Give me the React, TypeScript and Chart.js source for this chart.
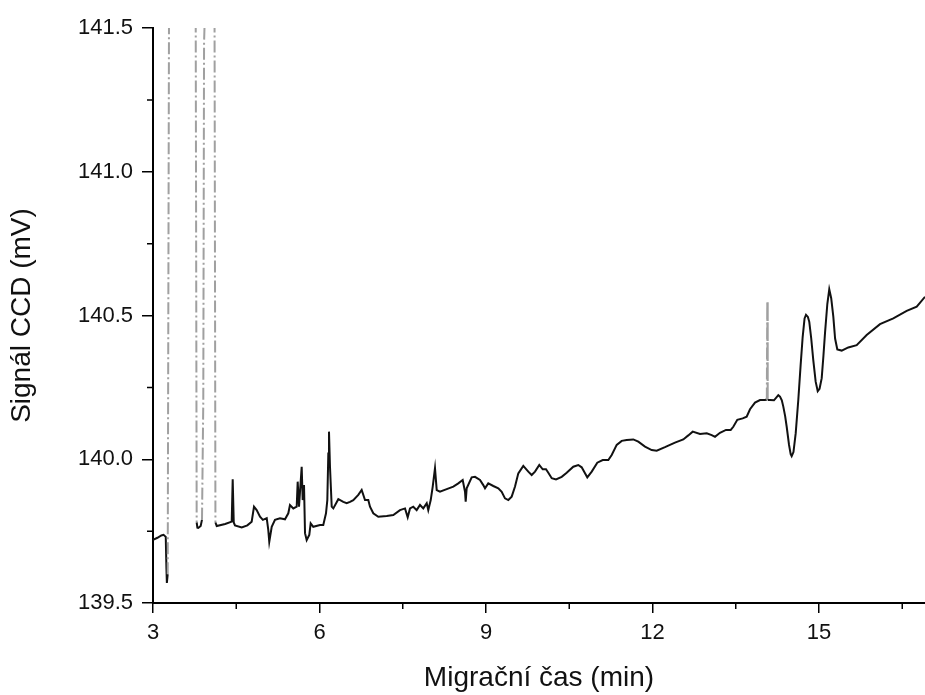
import React, { useEffect, useRef } from "react";
import { Chart, registerables } from "chart.js";

Chart.register(...registerables);

// Migration time (min)
const TIME = [
  3.0, 3.08, 3.15, 3.19, 3.23, 3.242, 3.25, 3.265, 3.3, 3.76, 3.787, 3.8, 3.816, 3.859, 3.883, 3.906, 3.92,
  4.08, 4.1, 4.125, 4.148, 4.3, 4.418, 4.436, 4.455, 4.477, 4.598, 4.7, 4.778, 4.82, 4.868, 4.928, 4.98,
  5.049, 5.077, 5.095, 5.139, 5.198, 5.288, 5.378, 5.438, 5.468, 5.528, 5.589, 5.607, 5.631, 5.679, 5.697,
  5.721, 5.739, 5.769, 5.816, 5.841, 5.888, 6.009, 6.068, 6.117, 6.141, 6.159, 6.171, 6.189, 6.22, 6.249,
  6.339, 6.429, 6.49, 6.55, 6.609, 6.699, 6.76, 6.82, 6.879, 6.91, 6.969, 7.059, 7.211, 7.33, 7.45, 7.541,
  7.589, 7.631, 7.69, 7.751, 7.811, 7.87, 7.932, 7.96, 8.004, 8.04, 8.081, 8.112, 8.171, 8.292, 8.411,
  8.501, 8.58, 8.622, 8.634, 8.652, 8.742, 8.802, 8.892, 8.951, 8.982, 9.041, 9.132, 9.222, 9.283, 9.342,
  9.402, 9.463, 9.523, 9.582, 9.672, 9.762, 9.823, 9.883, 9.96, 10.022, 10.081, 10.123, 10.184, 10.261,
  10.364, 10.454, 10.573, 10.663, 10.724, 10.784, 10.825, 10.905, 11.005, 11.103, 11.204, 11.265, 11.355,
  11.445, 11.535, 11.654, 11.744, 11.865, 11.986, 12.076, 12.225, 12.405, 12.555, 12.645, 12.724, 12.856,
  12.977, 13.067, 13.126, 13.216, 13.324, 13.409, 13.456, 13.528, 13.625, 13.697, 13.757, 13.847, 13.937,
  14.027, 14.06, 14.068, 14.076, 14.117, 14.189, 14.267, 14.297, 14.33, 14.357, 14.39, 14.418, 14.46,
  14.49, 14.508, 14.54, 14.58, 14.627, 14.67, 14.706, 14.74, 14.766, 14.8, 14.825, 14.86, 14.897, 14.94,
  14.977, 15.01, 15.049, 15.08, 15.108, 15.15, 15.185, 15.22, 15.258, 15.29, 15.33, 15.409, 15.528,
  15.679, 15.859, 16.099, 16.339, 16.58, 16.761, 16.91,
];

// CCD signal (mV)
const SIGNAL = [
  139.72, 139.727, 139.735, 139.737, 139.73, 139.62, 139.57, 139.6, 142.5, 142.5, 139.78, 139.762, 139.761,
  139.768, 139.79, 140.2, 141.45,
  142.5, 142.5, 139.78, 139.768, 139.775, 139.783, 139.93, 139.78, 139.77, 139.763, 139.77, 139.783, 139.835,
  139.823, 139.8, 139.789,
  139.795, 139.754, 139.713, 139.765, 139.789, 139.795, 139.791, 139.812, 139.841, 139.829, 139.835, 139.922,
  139.835, 139.974, 139.858,
  139.91, 139.743, 139.719, 139.737, 139.777, 139.765, 139.771, 139.771, 139.812, 139.858, 140.02, 140.096,
  139.974, 139.835, 139.829,
  139.861, 139.852, 139.847, 139.852, 139.858, 139.876, 139.893, 139.858, 139.858, 139.835, 139.812, 139.8,
  139.803, 139.806, 139.823, 139.829,
  139.798, 139.829, 139.835, 139.823, 139.841, 139.829, 139.847, 139.823, 139.858, 139.905, 139.969, 139.893,
  139.887, 139.896, 139.905,
  139.916, 139.928, 139.887, 139.852, 139.899, 139.937, 139.939, 139.928, 139.91, 139.899, 139.916, 139.907,
  139.899, 139.887, 139.864,
  139.858, 139.87, 139.905, 139.951, 139.977, 139.957, 139.945, 139.957, 139.98, 139.965, 139.965, 139.953,
  139.934, 139.93,
  139.939, 139.953, 139.974, 139.98, 139.972, 139.951, 139.937, 139.957, 139.988, 139.997, 139.997, 140.015,
  140.05,
  140.064, 140.067, 140.069, 140.061, 140.044, 140.032, 140.03, 140.042, 140.058, 140.069, 140.083, 140.096,
  140.088,
  140.09, 140.084, 140.078, 140.092, 140.102, 140.102, 140.113, 140.137, 140.142, 140.148, 140.174, 140.197,
  140.206,
  140.206, 140.208, 140.548, 140.206, 140.206, 140.205, 140.223, 140.218, 140.205, 140.183, 140.15, 140.113,
  140.05,
  140.018, 140.011, 140.025, 140.09, 140.206, 140.33, 140.426, 140.49, 140.502, 140.495, 140.478, 140.42,
  140.345, 140.27,
  140.237, 140.245, 140.282, 140.36, 140.438, 140.54, 140.591, 140.56, 140.496, 140.42, 140.382, 140.378,
  140.389,
  140.397, 140.432, 140.47, 140.49, 140.516, 140.531, 140.565,
];

const X_TICKS = [3, 6, 9, 12, 15];
const X_MINOR = [4.5, 7.5, 10.5, 13.5, 16.5];
const Y_TICKS = [139.5, 140.0, 140.5, 141.0, 141.5];
const Y_MINOR = [139.75, 140.25, 140.75, 141.25];

const X_TITLE = "Migrační čas (min)";
const Y_TITLE = "Signál CCD (mV)";

const FONT = "'Liberation Sans', Arial, Helvetica, sans-serif";

const minorTicks = {
  id: "minorTicks",
  afterDraw(chart: any) {
    const { ctx, chartArea } = chart;
    const xs = chart.scales.x;
    const ys = chart.scales.y;
    ctx.save();
    ctx.strokeStyle = "#000";
    ctx.lineWidth = 1.5;
    ctx.beginPath();
    X_MINOR.forEach((v) => {
      const px = xs.getPixelForValue(v);
      if (px <= chartArea.right + 0.5) {
        ctx.moveTo(px, chartArea.bottom);
        ctx.lineTo(px, chartArea.bottom + 6);
      }
    });
    Y_MINOR.forEach((v) => {
      const py = ys.getPixelForValue(v);
      ctx.moveTo(chartArea.left - 6, py);
      ctx.lineTo(chartArea.left, py);
    });
    ctx.stroke();
    ctx.restore();
  },
};

export default function App() {
  const ref = useRef<HTMLCanvasElement | null>(null);

  useEffect(() => {
    if (!ref.current) return;
    const points = TIME.map((t, i) => ({ x: t, y: SIGNAL[i] }));
    const steep = (c: any) => Math.abs(c.p1.parsed.y - c.p0.parsed.y) > 0.3;
    const chart = new Chart(ref.current, {
      type: "line",
      data: {
        datasets: [
          {
            data: points,
            borderColor: "#111",
            borderWidth: 2,
            pointRadius: 0,
            tension: 0,
            fill: false,
            segment: {
              borderColor: (c: any) => (steep(c) ? "#a0a0a0" : "#111"),
              borderDash: (c: any) => (steep(c) ? [12, 3, 2, 3] : undefined),
            },
          },
        ],
      },
      options: {
        animation: false,
        responsive: false,
        layout: { padding: { top: 28, right: 0, left: 0, bottom: 0 } },
        plugins: { legend: { display: false }, tooltip: { enabled: false } },
        scales: {
          x: {
            type: "linear",
            min: 3,
            max: 16.91,
            afterBuildTicks: (s: any) => {
              s.ticks = X_TICKS.map((v) => ({ value: v }));
            },
            afterFit: (s: any) => {
              s.height = 92;
            },
            ticks: {
              color: "#111",
              font: { family: FONT, size: 22 },
              padding: 7,
              maxRotation: 0,
              autoSkip: false,
              callback: (v: any) => String(v),
            },
            grid: {
              display: true,
              drawOnChartArea: false,
              drawTicks: true,
              tickLength: 10,
              color: "#000",
              lineWidth: 1.5,
            },
            border: { display: true, color: "#000", width: 2 },
            title: {
              display: true,
              text: X_TITLE,
              color: "#111",
              font: { family: FONT, size: 28 },
              padding: { top: 0, bottom: 0 },
            },
          },
          y: {
            type: "linear",
            min: 139.5,
            max: 141.5,
            afterBuildTicks: (s: any) => {
              s.ticks = Y_TICKS.map((v) => ({ value: v }));
            },
            afterFit: (s: any) => {
              s.width = 153;
            },
            ticks: {
              color: "#111",
              font: { family: FONT, size: 22 },
              padding: 9,
              autoSkip: false,
              callback: (v: any) => Number(v).toFixed(1),
            },
            grid: {
              display: true,
              drawOnChartArea: false,
              drawTicks: true,
              tickLength: 11,
              color: "#000",
              lineWidth: 1.5,
            },
            border: { display: true, color: "#000", width: 2 },
            title: {
              display: true,
              text: Y_TITLE,
              color: "#111",
              font: { family: FONT, size: 28 },
              padding: { top: 5, bottom: 0 },
            },
          },
        },
      },
      plugins: [minorTicks],
    });
    return () => chart.destroy();
  }, []);

  return (
    <div style={{ position: "absolute", left: 0, top: 0, width: 925, height: 695, background: "#fff" }}>
      <canvas ref={ref} width={925} height={695} style={{ display: "block", width: 925, height: 695 }} />
    </div>
  );
}
